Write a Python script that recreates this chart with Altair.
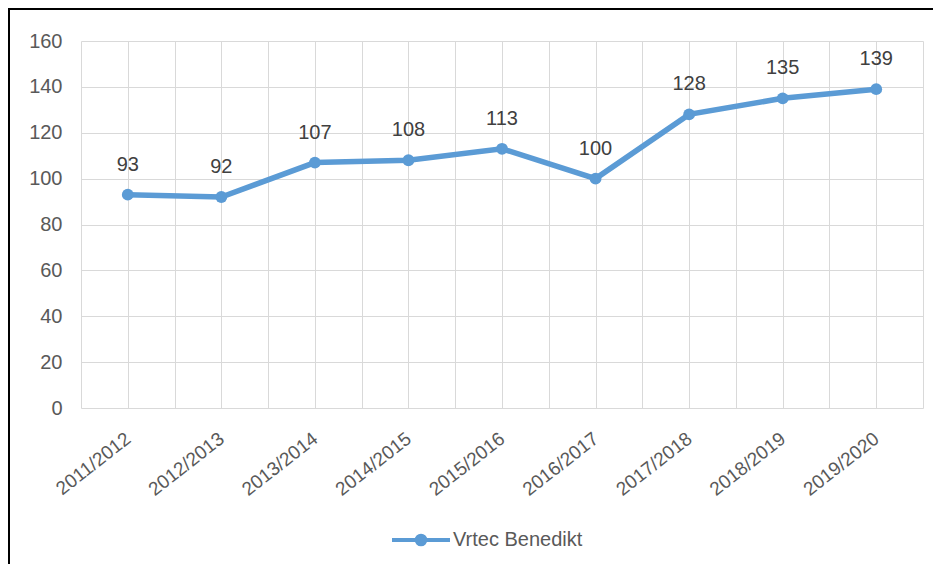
import altair as alt
import pandas as pd

categories = ["2011/2012", "2012/2013", "2013/2014", "2014/2015", "2015/2016",
              "2016/2017", "2017/2018", "2018/2019", "2019/2020"]
values = [93, 92, 107, 108, 113, 100, 128, 135, 139]
series_name = "Vrtec Benedikt"
y_ticks = [0, 20, 40, 60, 80, 100, 120, 140, 160]

df = pd.DataFrame({
    "idx": list(range(len(categories))),
    "cat": categories,
    "val": values,
    "series": [series_name] * len(categories),
})

FONT = "Liberation Sans Narrow, Arial Narrow, Liberation Sans, Arial, sans-serif"
BLUE = "#5B9BD5"
GRID = "#D9D9D9"
W, H = 842, 367
PL, PT, PR, PB = 73, 33, 10, 156

x_vals = [i / 2 for i in range(-1, 2 * len(categories))]
cat_js = "[" + ",".join("'" + c + "'" for c in categories) + "]"

x_enc = alt.X(
    "idx:Q",
    scale=alt.Scale(domain=[-0.5, len(categories) - 0.5], nice=False, zero=False),
    axis=alt.Axis(
        values=x_vals,
        labelExpr=f"datum.value % 1 == 0 ? {cat_js}[datum.value] : ''",
        title=None, grid=True, gridColor=GRID, gridWidth=1,
        ticks=False, domain=False,
        labelAngle=322, labelAlign="right", labelBaseline="middle",
        labelPadding=28, labelOverlap=False, labelFlush=False, labelBound=False,
        labelFont=FONT, labelFontSize=19, labelColor="#595959",
    ),
)
y_enc = alt.Y(
    "val:Q",
    scale=alt.Scale(domain=[0, 160], nice=False),
    axis=alt.Axis(
        values=y_ticks, title=None, grid=True, gridColor=GRID, gridWidth=1,
        ticks=False, domain=False, labelPadding=19,
        labelFont=FONT, labelFontSize=20, labelColor="#595959",
    ),
)

base = alt.Chart(df)

line = base.mark_line(color=BLUE, strokeWidth=5.5).encode(x=x_enc, y=y_enc)

points = base.mark_point(filled=True, size=140, opacity=1).encode(
    x=x_enc, y=y_enc,
    color=alt.Color(
        "series:N",
        scale=alt.Scale(domain=[series_name], range=[BLUE]),
        legend=alt.Legend(
            title=None, orient="none", legendX=309, legendY=468,
            padding=0,
            symbolType="M-1,0L1,0M0.15,0A0.15,0.15 0 1,1 -0.15,0A0.15,0.15 0 1,1 0.15,0Z",
            symbolSize=3364, symbolStrokeColor=BLUE, symbolStrokeWidth=4,
            symbolFillColor=BLUE, symbolOpacity=1,
            labelFont=FONT, labelFontSize=20, labelColor="#595959",
            labelOffset=1,
        ),
    ),
)

labels = base.mark_text(
    dy=-24, baseline="alphabetic", align="center",
    font=FONT, fontSize=20, color="#404040",
).encode(x=x_enc, y=y_enc, text="val:Q")

border_left = alt.Chart(df).mark_rule(color="black", strokeWidth=2).encode(
    x=alt.value(-PL + 1), y=alt.value(-PT), y2=alt.value(H + PB)
)
border_top = alt.Chart(df).mark_rule(color="black", strokeWidth=2).encode(
    x=alt.value(-PL), x2=alt.value(W + PR), y=alt.value(-PT + 1)
)

chart = alt.layer(line, points, labels, border_left, border_top).properties(
    width=W, height=H,
    autosize=alt.AutoSizeParams(type="none"),
    padding={"left": PL, "top": PT, "right": PR, "bottom": PB},
    background="white",
).configure_view(stroke=None)

chart.save("out.html", embed_options={"renderer": "svg", "actions": False})
